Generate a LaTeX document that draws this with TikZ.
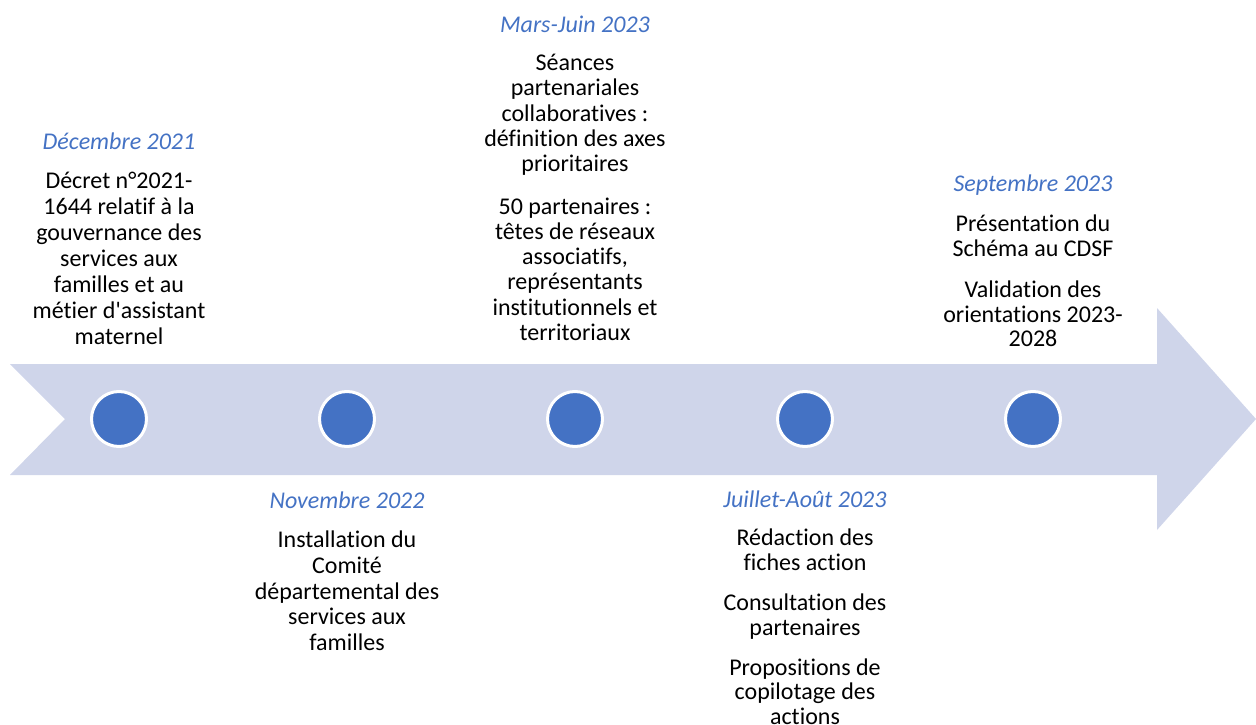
\documentclass[tikz,border=0pt]{standalone}
\usepackage{fontspec}
\setmainfont{Carlito}[Ligatures={TeXOff,NoCommon}]
\definecolor{bandfill}{HTML}{CFD5EA}
\definecolor{dotblue}{HTML}{4472C4}
\newcommand{\when}[1]{{\color{dotblue}\itshape #1}}
\begin{document}
\begin{tikzpicture}[x=1pt,y=-1pt,
  band/.style={fill=bandfill, draw=none},
  dot/.style={circle, fill=dotblue, draw=white, line width=3pt, minimum size=55pt, inner sep=0pt},
  entry/.style={align=center, inner sep=0pt, anchor=north, text=black,
                font=\fontsize{24}{#1}\selectfont},
]
\useasboundingbox (0,0) rectangle (1256,725);

% timeline band with notched tail and arrow head
\path[band] (10,364) -- (1157,364) -- (1157,308) -- (1256,419) -- (1157,530)
  -- (1157,475) -- (10,475) -- (65,419) -- cycle;

% milestones
\node[dot] (m1) at (119,419) {};
\node[dot] (m2) at (347,419) {};
\node[dot] (m3) at (575,419) {};
\node[dot] (m4) at (805,419) {};
\node[dot] (m5) at (1033,419) {};

% texts above the band
\node[entry=26] (t1) at (119,133) {\when{Décembre 2021}\\[13pt]
  Décret n°2021-\\1644 relatif à la\\gouvernance des\\services aux\\familles et au\\métier d'assistant\\maternel};
\node[entry=25.2] (t3) at (575,16) {\when{Mars-Juin 2023}\\[12.8pt]
  Séances\\partenariales\\collaboratives :\\définition des axes\\prioritaires\\[17.5pt]
  50 partenaires :\\têtes de réseaux\\associatifs,\\représentants\\institutionnels et\\territoriaux};
\node[entry=24.6] (t5) at (1033,175) {\when{Septembre 2023}\\[15.4pt]
  Présentation du\\Schéma au CDSF\\[16.4pt]
  Validation des\\orientations 2023-\\2028};

% texts below the band
\node[entry=25.7] (t2) at (347,492) {\when{Novembre 2022}\\[13.3pt]
  Installation du\\Comité\\départemental des\\services aux\\familles};
\node[entry=24.6] (t4) at (805,491) {\when{Juillet-Août 2023}\\[13.4pt]
  Rédaction des\\fiches action\\[15.4pt]
  Consultation des\\partenaires\\[15.4pt]
  Propositions de\\copilotage des\\actions};
\end{tikzpicture}
\end{document}
